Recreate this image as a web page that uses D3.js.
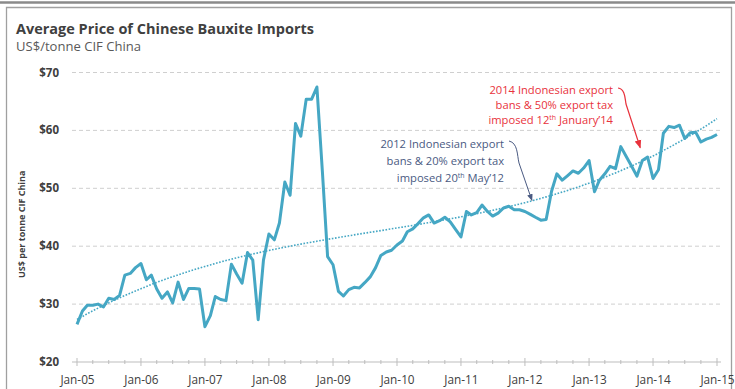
<!DOCTYPE html>
<html>
<head>
<meta charset="utf-8">
<script src="https://cdn.jsdelivr.net/npm/d3@7"></script>
<style>
  html, body { margin: 0; padding: 0; background: #fff; }
  svg { display: block; font-family: "Open Sans", Lato, sans-serif; }
</style>
</head>
<body>
<svg id="chart" width="735" height="389"></svg>
<script>
// ---- Data (monthly, Jan-05 .. Jan-15) ----
const startYear = 2005;
const prices = [
  26.5, 28.8, 29.8, 29.8, 30.0, 29.5, 31.0, 30.8, 31.5, 35.0, 35.3, 36.3,
  37.0, 34.2, 35.0, 32.6, 31.0, 32.1, 30.2, 33.8, 30.8, 32.7, 32.7, 32.6,
  26.1, 28.0, 31.3, 30.8, 30.6, 36.9, 35.2, 33.6, 38.9, 37.6, 27.3, 37.6,
  42.1, 41.1, 44.0, 51.1, 48.8, 61.2, 59.0, 65.4, 65.4, 67.5, 53.0, 38.2,
  36.8, 32.2, 31.4, 32.5, 32.9, 32.8, 33.7, 34.7, 36.3, 38.4, 39.0, 39.3,
  40.2, 40.9, 42.5, 43.0, 43.9, 44.9, 45.4, 44.0, 44.4, 45.0, 44.2, 42.9,
  41.6, 46.0, 45.4, 45.8, 47.1, 46.0, 45.2, 45.7, 46.6, 46.9, 46.3, 46.3,
  46.0, 45.5, 45.0, 44.5, 44.6, 49.5, 52.5, 51.4, 52.2, 53.0, 52.6, 53.5,
  54.8, 49.4, 51.4, 52.5, 53.8, 53.4, 57.2, 55.5, 53.8, 52.1, 54.8, 55.4,
  51.7, 53.2, 59.5, 60.7, 60.5, 60.9, 58.6, 59.6, 59.7, 58.0, 58.5, 58.8,
  59.3
];
const xTickLabels = ["Jan-05","Jan-06","Jan-07","Jan-08","Jan-09","Jan-10","Jan-11","Jan-12","Jan-13","Jan-14","Jan-15"];
const yTicks = [20, 30, 40, 50, 60, 70];
const titleText = "Average Price of Chinese Bauxite Imports";
const subtitleText = "US$/tonne CIF China";
const yAxisTitle = "US$ per tonne CIF China";
const note2012 = ["2012 Indonesian export", "bans & 20% export tax", ["imposed 20", "th", " May\u201912"]];
const note2014 = ["2014 Indonesian export", "bans & 50% export tax", ["imposed 12", "th", " January\u201914"]];

// ---- Setup ----
const svg = d3.select("#chart");
const lineColor = "#45A7C4";
const textColor = "#404040";

const dates = prices.map((_, i) => new Date(startYear, i, 1));
const x = d3.scaleTime()
  .domain([new Date(2005, 0, 1), new Date(2015, 0, 1)])
  .range([77, 717]);
const y = d3.scaleLinear().domain([20, 70]).range([362, 72.5]);

// frame
svg.append("line").attr("x1", 0).attr("x2", 735).attr("y1", 2.5).attr("y2", 2.5)
  .attr("stroke", "#8a8a8a").attr("stroke-width", 2.5);
svg.append("path").attr("d", "M6.5,395 L6.5,7.5 L731.5,7.5 L731.5,395")
  .attr("fill", "none").attr("stroke", "#a0a0a0").attr("stroke-width", 1.3);

// titles
svg.append("text").attr("x", 16).attr("y", 33.5)
  .attr("font-size", 13.5).attr("font-weight", "bold").attr("fill", textColor)
  .attr("textLength", 298).attr("lengthAdjust", "spacingAndGlyphs")
  .text(titleText);
svg.append("text").attr("x", 16).attr("y", 51)
  .attr("font-size", 12).attr("fill", "#595959")
  .attr("textLength", 125).attr("lengthAdjust", "spacingAndGlyphs")
  .text(subtitleText);

// y axis title
svg.append("text")
  .attr("transform", `translate(25,${(y(20) + y(70)) / 2 + 7}) rotate(-90)`)
  .attr("text-anchor", "middle").attr("font-size", 9).attr("font-weight", "bold")
  .attr("fill", textColor).text(yAxisTitle);

// gridlines
const gridTicks = yTicks.filter(v => v > 20);
svg.append("g").selectAll("line").data(gridTicks).join("line")
  .attr("x1", 72).attr("x2", 721)
  .attr("y1", d => y(d)).attr("y2", d => y(d))
  .attr("stroke", "#cfcfcf").attr("stroke-width", 1).attr("stroke-dasharray", "4,3");

// y tick labels
svg.append("g").selectAll("text").data(yTicks).join("text")
  .attr("x", 59).attr("y", d => y(d)).attr("dy", "0.35em")
  .attr("text-anchor", "end").attr("font-size", 11.5).attr("font-weight", "bold")
  .attr("fill", textColor).text(d => "$" + d);

// x axis
const yearDates = xTickLabels.map((_, i) => new Date(startYear + i, 0, 1));
const xAxis = d3.axisBottom(x)
  .tickValues(yearDates)
  .tickFormat((d, i) => xTickLabels[i])
  .tickSize(0).tickPadding(14);
const gx = svg.append("g").attr("transform", `translate(0,${y(20)})`).call(xAxis);
gx.select(".domain").remove();
gx.selectAll("text").attr("font-size", 11.8).attr("fill", textColor)
  .attr("font-family", "'Open Sans', Lato, sans-serif");
svg.append("line").attr("x1", 72).attr("x2", 721).attr("y1", y(20)).attr("y2", y(20))
  .attr("stroke", "#bdbdbd").attr("stroke-width", 1);
const quarterTicks = d3.timeMonth.every(3).range(new Date(2005, 0, 1), new Date(2015, 0, 2));
svg.append("g").selectAll("line").data(quarterTicks).join("line")
  .attr("x1", d => x(d)).attr("x2", d => x(d))
  .attr("y1", d => y(20) - (d.getMonth() === 0 ? 4 : 2))
  .attr("y2", d => y(20) + (d.getMonth() === 0 ? 4 : 2))
  .attr("stroke", "#bdbdbd").attr("stroke-width", 1);

// trendline: polynomial (cubic) least-squares fit of the series
function polyFit(xs, ys, deg) {
  const n = deg + 1;
  const A = Array.from({length: n}, () => new Array(n + 1).fill(0));
  xs.forEach((xv, k) => {
    for (let i = 0; i < n; i++) {
      for (let j = 0; j < n; j++) A[i][j] += Math.pow(xv, i + j);
      A[i][n] += ys[k] * Math.pow(xv, i);
    }
  });
  for (let c = 0; c < n; c++) {
    let p = c;
    for (let r = c + 1; r < n; r++) if (Math.abs(A[r][c]) > Math.abs(A[p][c])) p = r;
    [A[c], A[p]] = [A[p], A[c]];
    for (let r = 0; r < n; r++) {
      if (r === c) continue;
      const f = A[r][c] / A[c][c];
      for (let k = c; k <= n; k++) A[r][k] -= f * A[c][k];
    }
  }
  return A.map((row, i) => row[n] / row[i]);
}
const ts = prices.map((_, i) => i / (prices.length - 1));
const coef = polyFit(ts, prices, 3);
const trend = ts.map(t => coef.reduce((s, c, i) => s + c * Math.pow(t, i), 0));

svg.append("path")
  .datum(trend)
  .attr("fill", "none").attr("stroke", lineColor).attr("stroke-width", 1.6)
  .attr("stroke-dasharray", "1.6,1.6")
  .attr("d", d3.line().x((d, i) => x(dates[i])).y(d => y(d)));

// price line
svg.append("path")
  .datum(prices)
  .attr("fill", "none").attr("stroke", lineColor).attr("stroke-width", 3)
  .attr("stroke-linejoin", "round")
  .attr("d", d3.line().x((d, i) => x(dates[i])).y(d => y(d)));

// annotations
const defs = svg.append("defs");
function marker(id, color) {
  defs.append("marker").attr("id", id).attr("viewBox", "0 0 10 10")
    .attr("refX", 9).attr("refY", 5).attr("markerWidth", 7).attr("markerHeight", 7)
    .attr("orient", "auto-start-reverse")
    .append("path").attr("d", "M0,1 L10,5 L0,9 Z").attr("fill", color);
}
marker("arrBlue", "#4a5a82");
marker("arrRed", "#e8323c");

function note(lines, xr, baselines, color, fs) {
  const g = svg.append("g").attr("fill", color).attr("font-size", fs).attr("text-anchor", "end");
  lines.forEach((ln, i) => {
    const t = g.append("text").attr("x", xr).attr("y", baselines[i]);
    if (Array.isArray(ln)) {
      t.append("tspan").text(ln[0]);
      t.append("tspan").attr("font-size", fs * 0.62).attr("dy", -4).text(ln[1]);
      t.append("tspan").attr("dy", 4).text(ln[2]);
    } else t.text(ln);
  });
}
note(note2012, 504, [148, 165, 182], "#4a5a82", 11.2);
note(note2014, 613, [94, 109, 124], "#e8323c", 11.2);

// arrows (anchored via scales)
const bTip = [x(new Date(2012, 1, 10)), y(47.9)];
const bStart = [509, 141];
svg.append("path")
  .attr("d", `M${bStart[0]},${bStart[1]} C${bStart[0] + 9},${bStart[1] + 2} ${bStart[0] + 8},${bStart[1] + 14} ${bStart[0] + 10},${bStart[1] + 22} L${bTip[0]},${bTip[1]}`)
  .attr("fill", "none").attr("stroke", "#4a5a82").attr("stroke-width", 1)
  .attr("marker-end", "url(#arrBlue)");

const rTip = [x(new Date(2013, 9, 20)), y(57.0)];
const rStart = [618, 88];
svg.append("path")
  .attr("d", `M${rStart[0]},${rStart[1]} C${rStart[0] + 7},${rStart[1] + 1} ${rStart[0] + 7},${rStart[1] + 10} ${rStart[0] + 8},${rStart[1] + 16} L${rTip[0]},${rTip[1]}`)
  .attr("fill", "none").attr("stroke", "#e8323c").attr("stroke-width", 1.2)
  .attr("marker-end", "url(#arrRed)");
</script>
</body>
</html>
